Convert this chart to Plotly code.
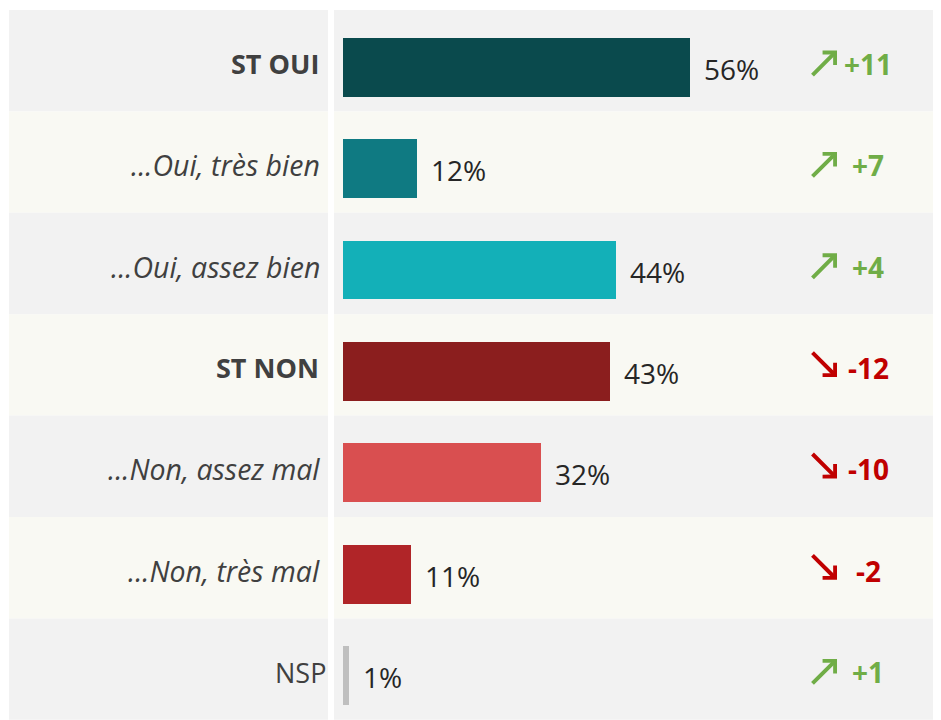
import plotly.graph_objects as go

categories = ["ST OUI", "...Oui, très bien", "...Oui, assez bien", "ST NON",
              "...Non, assez mal", "...Non, très mal", "NSP"]
styles = ["bold", "italic", "italic", "bold", "italic", "italic", "normal"]
values = [56, 12, 44, 43, 32, 11, 1]
changes = [11, 7, 4, -12, -10, -2, 1]
bar_colors = ["#0A4A4D", "#0F7A82", "#13B0B8", "#8B1E1E", "#D94F50", "#B02528", "#BFBFBF"]
row_colors = ["#F2F2F2", "#F9F9F3"]

W, H = 941, 720
OFF = 8  # page body margin: the figure starts at (8, 8) in the window
FONT = "Open Sans"
GREEN, RED = "#70AD47", "#C00000"


def px(p):
    # window pixel -> paper fraction
    return (p - OFF) / W


rows = list(range(len(categories)))

fig = go.Figure()
fig.add_trace(go.Bar(
    x=values, y=rows, orientation="h",
    marker=dict(color=bar_colors, line=dict(width=0)),
    width=0.58, offset=-0.226,
    hoverinfo="skip", showlegend=False,
))

shapes = []
annotations = []
for i, (cat, st, v, ch) in enumerate(zip(categories, styles, values, changes)):
    bg = row_colors[i % 2]
    shapes.append(dict(type="rect", xref="paper", yref="y", x0=px(9), x1=px(328),
                       y0=i - 0.5, y1=i + 0.5, fillcolor=bg, line_width=0, layer="below"))
    shapes.append(dict(type="rect", xref="paper", yref="y", x0=px(334), x1=1,
                       y0=i - 0.5, y1=i + 0.5, fillcolor=bg, line_width=0, layer="below"))

    if st == "bold":
        txt, size, right = f"<b>{cat}</b>", 27, 321
    elif st == "italic":
        txt, size, right = f"<i>{cat}</i>", 28.5, 322
    else:
        txt, size, right = cat, 27, 328
    annotations.append(dict(x=px(right), xref="paper", y=i + 0.03, yref="y", text=txt,
                            showarrow=False, xanchor="right", yanchor="middle",
                            font=dict(family=FONT, size=size, color="#404040")))

    # value label next to bar
    annotations.append(dict(x=v, xref="x", y=i + 0.08, yref="y", text=f"{v}%",
                            showarrow=False, xanchor="left", yanchor="middle", xshift=12,
                            font=dict(family=FONT, size=28, color="#262626")))

    # trend arrow + change
    col = GREEN if ch > 0 else RED
    if ch > 0:
        annotations.append(dict(x=px(837), xref="paper", y=i - 0.1, yref="y", text="",
                                showarrow=True, ax=-26, ay=26, arrowhead=4, arrowsize=0.85,
                                arrowwidth=4, arrowcolor=col, standoff=0))
    else:
        annotations.append(dict(x=px(837), xref="paper", y=i + 0.12, yref="y", text="",
                                showarrow=True, ax=-26, ay=-26, arrowhead=4, arrowsize=0.85,
                                arrowwidth=4, arrowcolor=col, standoff=0))
    annotations.append(dict(x=px(868), xref="paper", y=i + 0.03, yref="y",
                            text=f"<b>{ch:+d}</b>", showarrow=False,
                            xanchor="center", yanchor="middle",
                            font=dict(family=FONT, size=28, color=col)))

px_per_pct = 6.2
x0_px = 343 - OFF
row_px = 101.4
top_px = 10 - OFF

fig.update_layout(
    width=W, height=H,
    margin=dict(l=0, r=0, t=0, b=0),
    paper_bgcolor="white", plot_bgcolor="rgba(0,0,0,0)",
    xaxis=dict(range=[-x0_px / px_per_pct, (W - x0_px) / px_per_pct],
               visible=False, fixedrange=True),
    yaxis=dict(range=[-0.5 - top_px / row_px + H / row_px, -0.5 - top_px / row_px],
               visible=False, fixedrange=True),
    shapes=shapes,
    annotations=annotations,
    bargap=0,
)

fig.write_html("out.html")
